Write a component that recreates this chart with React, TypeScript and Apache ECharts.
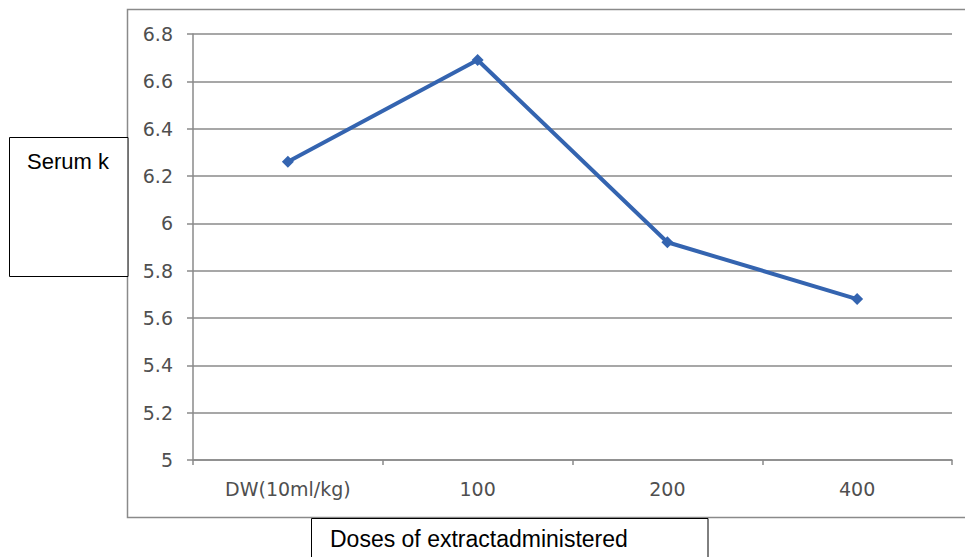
import React, { useEffect, useRef } from "react";
import * as echarts from "echarts";

// Dose groups on the x axis and the measured serum potassium for each
const doses = ["DW(10ml/kg)", "100", "200", "400"];
const serumK = [6.26, 6.69, 5.92, 5.68];

// Value axis range
const yMin = 5;
const yMax = 6.8;
const yStep = 0.2;

const axisFont = "DejaVu Sans";
const boxFont = "Liberation Sans";
const gray = "#8a8a8a";

export default function App() {
  const ref = useRef<HTMLDivElement>(null);

  useEffect(() => {
    if (!ref.current) return;
    const chart = echarts.init(ref.current, null, { renderer: "svg" });
    chart.setOption({
      animation: false,
      backgroundColor: "#ffffff",
      grid: { left: 193, right: 13, top: 34, bottom: 97 },
      xAxis: {
        type: "category",
        data: doses,
        boundaryGap: true,
        axisLine: { show: true, lineStyle: { color: gray, width: 1.5 } },
        axisTick: { show: true, length: 5, alignWithLabel: false, lineStyle: { color: gray, width: 1.5 } },
        axisLabel: { margin: 19, color: "#4f4f4f", fontFamily: axisFont, fontSize: 19 },
        splitLine: { show: false },
      },
      yAxis: {
        type: "value",
        min: yMin,
        max: yMax,
        interval: yStep,
        axisLine: { show: true, lineStyle: { color: gray, width: 1.5 } },
        axisTick: { show: true, length: 6, lineStyle: { color: gray, width: 1.5 } },
        axisLabel: { margin: 20, color: "#4f4f4f", fontFamily: axisFont, fontSize: 19 },
        splitLine: { show: true, lineStyle: { color: gray, width: 1.5 } },
      },
      series: [
        {
          type: "line",
          data: serumK,
          symbol: "diamond",
          symbolSize: 12,
          lineStyle: { color: "#3464b0", width: 4 },
          itemStyle: { color: "#3464b0" },
        },
      ],
      graphic: [
        {
          type: "rect",
          z: 0,
          shape: { x: 127.5, y: 9.5, width: 860, height: 508 },
          style: { fill: "none", stroke: gray, lineWidth: 1.5 },
        },
        {
          type: "rect",
          z: 10,
          shape: { x: 9.5, y: 137.5, width: 118.5, height: 139 },
          style: { fill: "#ffffff", stroke: "#000000", lineWidth: 1 },
        },
        {
          type: "text",
          z: 11,
          x: 27,
          y: 161,
          style: {
            text: "Serum k",
            fill: "#000000",
            font: `22px "${boxFont}"`,
            verticalAlign: "middle",
          },
        },
        {
          type: "rect",
          z: 10,
          shape: { x: 311.5, y: 518.5, width: 396.5, height: 60 },
          style: { fill: "#ffffff", stroke: "#000000", lineWidth: 1 },
        },
        {
          type: "text",
          z: 11,
          x: 330,
          y: 539,
          style: {
            text: "Doses of extractadministered",
            fill: "#000000",
            font: `23px "${boxFont}"`,
            verticalAlign: "middle",
          },
        },
      ],
    });
    return () => chart.dispose();
  }, []);

  return (
    <div
      ref={ref}
      style={{ position: "absolute", left: 0, top: 0, width: 965, height: 557 }}
    />
  );
}
